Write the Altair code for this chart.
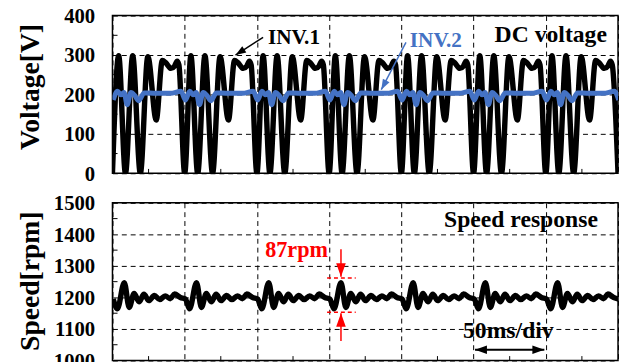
import altair as alt
import pandas as pd

FONT = "Liberation Serif"
BLUE = "#4472C4"
RED = "#FF0000"

# ---- waveform data: one 50 ms period (offset ms, value) ----
PERIOD_MS = 50
N_PERIODS = 7
inv1_t = [0, 4.3, 9, 14, 19.3, 24.5, 30.3, 34.5, 37, 40.5, 43, 44.8, 46]
inv1_v = [0, 298, 0, 298, 0, 296, 135, 286, 280, 266, 272, 284, 275]
inv2_t = [0.5, 3.5, 6, 8, 10.2, 12.8, 15.5, 18, 22, 30, 40, 47.5]
inv2_v = [186, 208, 199, 205, 174, 205, 197, 184, 204, 203, 203, 208]
spd_t = [0.5, 3.4, 8.2, 11.6, 15, 18.4, 21.8, 25.2, 29, 32.7, 36.5, 40, 43, 47]
spd_v = [1195, 1164, 1247, 1168, 1213, 1186, 1210, 1190, 1206, 1193, 1205, 1196, 1211, 1200]

# axis ticks
x_grid = [0, 50, 100, 150, 200, 250, 300, 350]
x_minor = [25, 75, 125, 175, 225, 275, 325]
v_ticks = [0, 100, 200, 300, 400]
v_minor = [50, 150, 250, 350]
s_ticks = [1000, 1100, 1200, 1300, 1400, 1500]
s_minor = [1050, 1150, 1250, 1350, 1450]

# annotations
top_lbl = ["INV.1", "INV.2"]
top_lbl_t = [107.7, 205.9]
top_lbl_v = [327.5, 320]
top_lbl_col = ["black", BLUE]
top_arrow_t = [104.3, 203.2]
top_arrow_v = [345, 332]
top_arrow_t2 = [85.2, 186.1]
top_arrow_v2 = [300, 212]
top_arrow_ang = [237, 208]

red_dash_v = [1262, 1153]
red_dash_t = [148.6, 168.4]
red_arrow_t = [158.2, 158.2]
red_arrow_v = [1353, 1062]
red_arrow_v2 = [1266, 1150]
red_arrow_ang = [180, 0]

div_t = [251, 299]
div_v = [1034, 1034]
div_ang = [270, 90]


def tile(ts, vs):
    rows = []
    for k in range(N_PERIODS):
        for t, v in zip(ts, vs):
            rows.append({"t": k * PERIOD_MS + t, "v": v})
    rows.append({"t": N_PERIODS * PERIOD_MS + ts[0], "v": vs[0]})
    return pd.DataFrame(rows)


inv1 = tile(inv1_t, inv1_v)
inv2 = tile(inv2_t, inv2_v)
spd = tile(spd_t, spd_v)

W, H = 513, 160
xscale = alt.Scale(domain=[0, 350], nice=False, zero=False)
vscale = alt.Scale(domain=[0, 400], nice=False)
sscale = alt.Scale(domain=[1000, 1500], nice=False, zero=False)

grid_kw = dict(grid=True, gridDash=[5, 4], gridColor="black", gridWidth=1,
               domain=False, ticks=False)
font_kw = dict(labelFont=FONT, labelFontWeight="bold", labelFontSize=21, labelColor="black",
               titleFont=FONT, titleFontWeight="bold", titleFontSize=28, titleColor="black",
               labelOverlap=False, format="d", labelPadding=18, labelOffset=1)
xaxis = alt.Axis(values=x_grid, labels=False, title=None, **grid_kw)

ARROW = "M0,0L-0.5,1.4L0.5,1.4Z"


def X(field="t"):
    return alt.X(f"{field}:Q", scale=xscale, axis=None)


def Y(field, scale):
    return alt.Y(f"{field}:Q", scale=scale, axis=None)


def text_layer(df, size, yscale, align="left", color=None):
    enc = dict(x=X(), y=Y("v", yscale), text="label:N")
    if color is None:
        enc["color"] = alt.Color("col:N", scale=None)
    mk = alt.Chart(df).mark_text(font=FONT, fontWeight="bold", fontSize=size,
                                 align=align, baseline="alphabetic",
                                 **({"color": color} if color else {}))
    return mk.encode(**enc)


# ---------------- top panel ----------------
l_inv1 = alt.Chart(inv1).mark_line(color="black", strokeWidth=5.5, interpolate="monotone", clip=True).encode(
    x=alt.X("t:Q", scale=xscale, axis=xaxis),
    y=alt.Y("v:Q", scale=vscale,
            axis=alt.Axis(values=v_ticks, title="Voltage[V]", titleX=-69, titleY=72,
                          **grid_kw, **font_kw)),
)
l_inv2 = alt.Chart(inv2).mark_line(color=BLUE, strokeWidth=5, interpolate="monotone", clip=True).encode(
    x=X(), y=Y("v", vscale))

vmin_df = pd.DataFrame({"v": v_minor, "t": [0] * len(v_minor), "t2": [3.5] * len(v_minor)})
vminor = alt.Chart(vmin_df).mark_rule(color="black", strokeWidth=1).encode(
    x=X(), x2="t2:Q", y=Y("v", vscale))
xmin_top_df = pd.DataFrame({"t": x_minor, "v": [0] * len(x_minor), "v2": [11] * len(x_minor)})
xminor_top = alt.Chart(xmin_top_df).mark_rule(color="black", strokeWidth=1).encode(
    x=X(), y=Y("v", vscale), y2="v2:Q")

top_lbl_df = pd.DataFrame({"t": top_lbl_t, "v": top_lbl_v, "label": top_lbl, "col": top_lbl_col})
t_lbls = text_layer(top_lbl_df, 21.5, vscale)
dc_df = pd.DataFrame({"t": [342.3], "v": [332.5], "label": ["DC voltage"]})
t_dc = text_layer(dc_df, 24, vscale, align="right", color="black")

arr_df = pd.DataFrame({"t": top_arrow_t, "v": top_arrow_v, "t2": top_arrow_t2, "v2": top_arrow_v2,
                       "ang": top_arrow_ang, "col": top_lbl_col})
arr_shaft = alt.Chart(arr_df).mark_rule(strokeWidth=1.5).encode(
    x=X(), y=Y("v", vscale), x2="t2:Q", y2="v2:Q",
    color=alt.Color("col:N", scale=None))
arr_head = alt.Chart(arr_df).mark_point(shape=ARROW, filled=True, size=230, opacity=1).encode(
    x=X("t2"), y=Y("v2", vscale),
    angle=alt.Angle("ang:Q", scale=None), color=alt.Color("col:N", scale=None))

top = alt.layer(l_inv1, xminor_top, vminor, l_inv2, arr_shaft, arr_head, t_lbls, t_dc).properties(
    width=W, height=H).resolve_axis(x="independent", y="independent")

# ---------------- bottom panel ----------------
l_spd = alt.Chart(spd).mark_line(color="black", strokeWidth=5.5, interpolate="monotone", clip=True).encode(
    x=alt.X("t:Q", scale=xscale, axis=xaxis),
    y=alt.Y("v:Q", scale=sscale,
            axis=alt.Axis(values=s_ticks, title="Speed[rpm]", titleX=-69, titleY=79,
                          **grid_kw, **font_kw)),
)
smin_df = pd.DataFrame({"v": s_minor, "t": [0] * len(s_minor), "t2": [3.5] * len(s_minor)})
sminor = alt.Chart(smin_df).mark_rule(color="black", strokeWidth=1).encode(
    x=X(), x2="t2:Q", y=Y("v", sscale))
xmin_bot_df = pd.DataFrame({"t": x_minor, "v": [1000] * len(x_minor), "v2": [1014] * len(x_minor)})
xminor_bot = alt.Chart(xmin_bot_df).mark_rule(color="black", strokeWidth=1).encode(
    x=X(), y=Y("v", sscale), y2="v2:Q")

dash_df = pd.DataFrame({"v": red_dash_v, "t": [red_dash_t[0]] * 2, "t2": [red_dash_t[1]] * 2})
red_dash = alt.Chart(dash_df).mark_rule(color=RED, strokeWidth=1.5, strokeDash=[4, 3]).encode(
    x=X(), x2="t2:Q", y=Y("v", sscale))
rarr_df = pd.DataFrame({"t": red_arrow_t, "v": red_arrow_v, "v2": red_arrow_v2, "ang": red_arrow_ang})
red_shaft = alt.Chart(rarr_df).mark_rule(color=RED, strokeWidth=1.5).encode(
    x=X(), y=Y("v", sscale), y2="v2:Q")
red_head = alt.Chart(rarr_df).mark_point(shape=ARROW, filled=True, size=380, color=RED, opacity=1).encode(
    x=X(), y=Y("v2", sscale), angle=alt.Angle("ang:Q", scale=None))

div_df = pd.DataFrame({"t": div_t, "v": div_v, "ang": div_ang})
div_shaft = alt.Chart(pd.DataFrame({"t": [div_t[0]], "t2": [div_t[1]], "v": [div_v[0]]})).mark_rule(
    color="black", strokeWidth=2).encode(x=X(), x2="t2:Q", y=Y("v", sscale))
div_head = alt.Chart(div_df).mark_point(shape=ARROW, filled=True, size=300, color="black", opacity=1).encode(
    x=X(), y=Y("v", sscale), angle=alt.Angle("ang:Q", scale=None))

sr_df = pd.DataFrame({"t": [336.1], "v": [1421.9], "label": ["Speed response"]})
t_sr = text_layer(sr_df, 24, sscale, align="right", color="black")
rpm_df = pd.DataFrame({"t": [105.7], "v": [1328], "label": ["87rpm"]})
t_rpm = text_layer(rpm_df, 22.5, sscale, color=RED)
ms_df = pd.DataFrame({"t": [242.7], "v": [1071.9], "label": ["50ms/div"]})
t_ms = text_layer(ms_df, 24, sscale, color="black")

bottom = alt.layer(l_spd, xminor_bot, sminor, red_dash, red_shaft, red_head,
                   div_shaft, div_head, t_sr, t_rpm, t_ms).properties(
    width=W, height=H).resolve_axis(x="independent", y="independent")

chart = alt.vconcat(top, bottom, spacing=30, bounds="flush").properties(
    padding={"left": 8, "top": -6, "right": 0, "bottom": 0},
    background="white",
).configure_view(stroke="black", strokeWidth=1.5)

chart.save("out.html", embed_options={"renderer": "svg", "actions": False})
